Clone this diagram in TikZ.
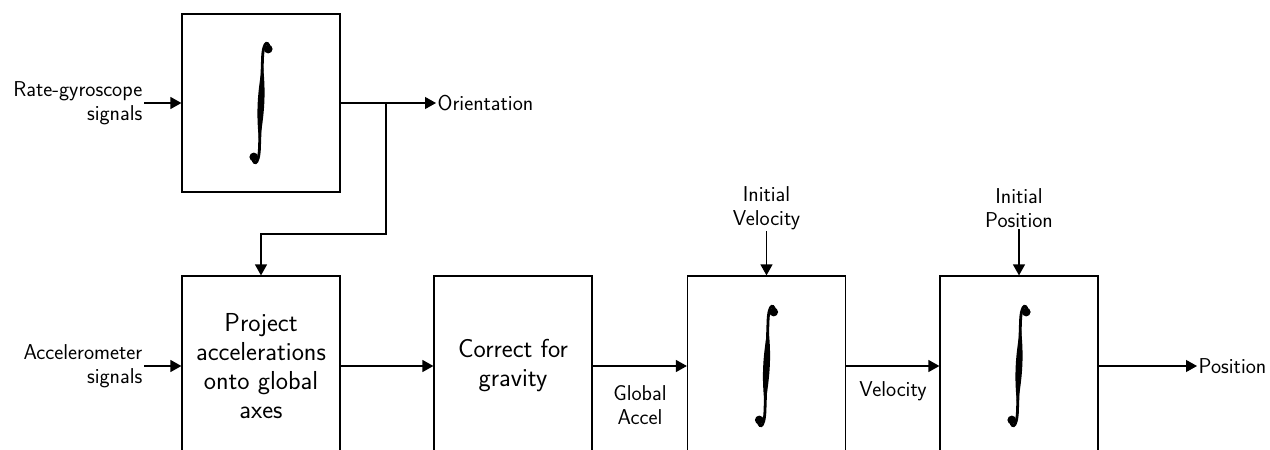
\documentclass[tikz,border=0pt]{standalone}
\usetikzlibrary{arrows.meta}
\begin{document}
\begin{tikzpicture}[x=1pt,y=-1pt,
  blk/.style={draw,line width=1.2pt,minimum width=158pt,inner sep=0pt},
  lbl/.style={font=\sffamily\fontsize{21.5}{24}\selectfont,inner sep=1.5pt},
  boxtxt/.style={font=\sffamily\fontsize{26}{29}\selectfont,align=center},
  sig/.style={line width=1.2pt,-{Triangle[length=11pt,width=12pt]}},
  % tall integral sign drawn around the pic origin
  integ/.pic={
    \draw[line width=2.8pt,line cap=round]
      (8.5,-52) .. controls (8.5,-63) and (2,-64) .. (1.5,-44)
      -- (-1.5,44) .. controls (-2,64) and (-8.5,63) .. (-8.5,52);
    \fill (1.7,-40) .. controls (5.2,-10) and (3.6,10) .. (-1.7,40)
      .. controls (-5.2,10) and (-3.6,-10) .. cycle;
    \fill (7.2,-54) circle (4.4pt);
    \fill (-7.2,54) circle (4.4pt);
  }]
\useasboundingbox (0,0) rectangle (1270,450);
\clip (0,0) rectangle (1270,450);

% attitude branch
\node[blk,minimum height=178pt] (gyro) at (261,103) {};
\pic at (gyro.center) {integ};
\node[lbl,anchor=east,align=right] (rate) at (144,103) {Rate-gyroscope\\signals};
\node[lbl,anchor=west] (orient) at (436,103) {Orientation};

% position chain
\node[blk,minimum height=180pt,boxtxt] (proj) at (261,366) {Project\\accelerations\\onto global\\axes};
\node[blk,minimum height=180pt,boxtxt] (grav) at (513,366) {Correct for\\gravity};
\node[blk,minimum height=180pt] (vel) at (766.5,366) {};
\node[blk,minimum height=180pt] (pos) at (1019,366) {};
\pic at (vel.center) {integ};
\pic at (pos.center) {integ};

\node[lbl,anchor=east,align=right] (acc) at (144,366) {Accelerometer\\signals};
\node[lbl,align=center] (ga) at (640,405) {Global\\Accel};
\node[lbl] (vl) at (893,391) {Velocity};
\node[lbl,align=center] (iv) at (766.5,208) {Initial\\Velocity};
\node[lbl,align=center] (ip) at (1019,208) {Initial\\Position};
\node[lbl,anchor=west] (posl) at (1197,366) {Position};

% connectors
\coordinate (split) at (386,103);
\coordinate (bend) at (386,234);
\draw[sig] (rate.east) -- (gyro.west);
\draw[sig] (gyro.east) -- (orient.west);
\draw[sig] (split) -- (bend) -| (proj.north);
\draw[sig] (acc.east) -- (proj.west);
\draw[sig] (proj.east) -- (grav.west);
\draw[sig] (grav.east) -- (vel.west);
\draw[sig] (vel.east) -- (pos.west);
\draw[sig] (pos.east) -- (posl.west);
\draw[sig] (iv.south) -- (vel.north);
\draw[sig] (ip.south) -- (pos.north);
\end{tikzpicture}
\end{document}
